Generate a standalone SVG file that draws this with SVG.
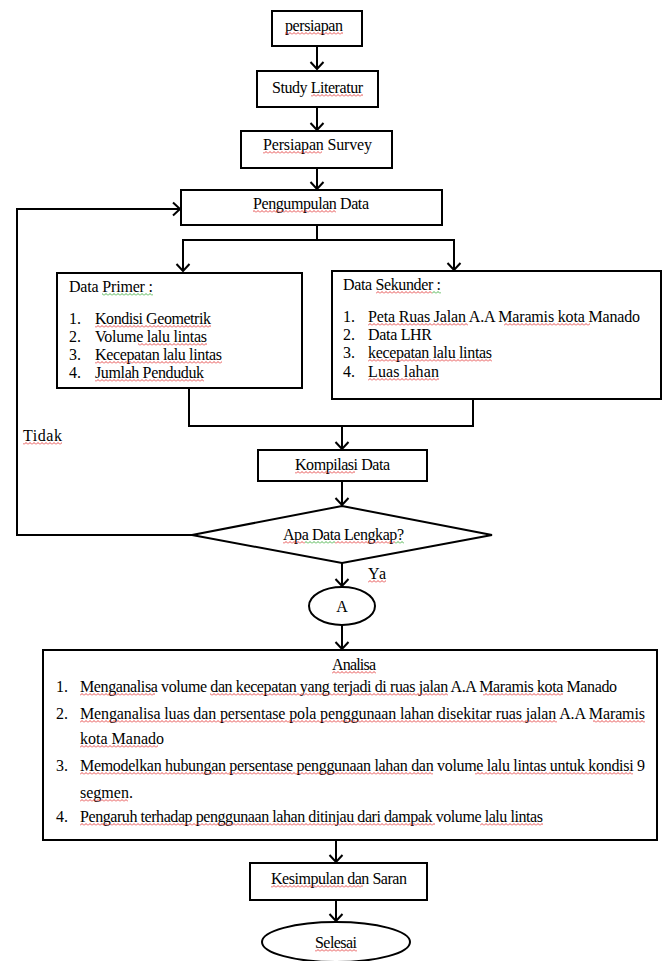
<svg xmlns="http://www.w3.org/2000/svg" width="666" height="961" viewBox="0 0 666 961">
<style>
.b{fill:#fff;stroke:#000;stroke-width:2}
.c{fill:none;stroke:#000;stroke-width:2}
.t{font-family:"Liberation Serif","Times New Roman",serif;font-size:16px;fill:#000}
.m{text-anchor:middle}
.r{fill:url(#sq)}
.g{fill:url(#sg)}
</style>
<defs>
<marker id="ah" markerUnits="userSpaceOnUse" markerWidth="16" markerHeight="16" refX="8" refY="8" orient="auto" overflow="visible">
<path d="M1,1.5 L8,8 L1,14.5" fill="none" stroke="#000" stroke-width="2"/>
</marker>
<pattern id="sq" patternUnits="userSpaceOnUse" width="4" height="3">
<path d="M0,2.5 L2,0.5 L4,2.5" fill="none" stroke="#e02020" stroke-width="0.8"/>
</pattern>
<pattern id="sg" patternUnits="userSpaceOnUse" width="4" height="3">
<path d="M0,2.5 L2,0.5 L4,2.5" fill="none" stroke="#20a020" stroke-width="0.8"/>
</pattern>
</defs>
<rect width="666" height="961" fill="#fff"/>

<g id="connectors" class="c">
<path d="M317,46 V69" marker-end="url(#ah)"/>
<path d="M317,107 V130" marker-end="url(#ah)"/>
<path d="M317,168 V189" marker-end="url(#ah)"/>
<path d="M317,225 V240"/>
<path d="M182,240 H455"/>
<path d="M183,240 V271" marker-end="url(#ah)"/>
<path d="M454,240 V270" marker-end="url(#ah)"/>
<path d="M189,388 V426 H473 V399"/>
<path d="M342,426 V449" marker-end="url(#ah)"/>
<path d="M342,481 V505" marker-end="url(#ah)"/>
<path d="M192,535 H17 V209 H180" marker-end="url(#ah)"/>
<path d="M342,563 V586" marker-end="url(#ah)"/>
<path d="M342,625 V649" marker-end="url(#ah)"/>
<path d="M336,840 V862" marker-end="url(#ah)"/>
<path d="M336,900 V921" marker-end="url(#ah)"/>
</g>

<g id="persiapan">
<rect class="b" x="272" y="11" width="90" height="35"/>
<text class="t" x="285" y="31" textLength="58">persiapan</text>
<g transform="translate(0,32)"><rect class="r" x="285" y="0" width="58" height="3"/></g>
</g>
<g id="study">
<rect class="b" x="257" y="71" width="121" height="36"/>
<text class="t" x="272" y="93" textLength="91">Study Literatur</text>
<g transform="translate(0,94)"><rect class="r" x="311" y="0" width="52" height="3"/></g>
</g>
<g id="survey">
<rect class="b" x="241" y="131" width="151" height="37"/>
<text class="t" x="263" y="150" textLength="109">Persiapan Survey</text>
<g transform="translate(0,151)"><rect class="r" x="263" y="0" width="59" height="3"/></g>
</g>
<g id="pengumpulan">
<rect class="b" x="181" y="190" width="261" height="35"/>
<text class="t" x="253" y="209" textLength="116">Pengumpulan Data</text>
<g transform="translate(0,210)"><rect class="r" x="253" y="0" width="83" height="3"/></g>
</g>
<g id="primer">
<rect class="b" x="57" y="273" width="245" height="115"/>
<text class="t" x="69" y="292" textLength="84">Data Primer :</text>
<text class="t" x="69" y="324">1.</text><text class="t" x="95" y="324" textLength="116">Kondisi Geometrik</text>
<text class="t" x="69" y="342">2.</text><text class="t" x="95" y="342" textLength="112">Volume lalu lintas</text>
<text class="t" x="69" y="360">3.</text><text class="t" x="95" y="360" textLength="127">Kecepatan  lalu lintas</text>
<text class="t" x="69" y="378">4.</text><text class="t" x="95" y="378" textLength="109">Jumlah Penduduk</text>
<g transform="translate(0,293)"><rect class="g" x="102" y="0" width="51" height="3"/></g>
<g transform="translate(0,325)"><rect class="r" x="95" y="0" width="116" height="3"/></g>
<g transform="translate(0,343)"><rect class="r" x="138" y="0" width="69" height="3"/></g>
<g transform="translate(0,361)"><rect class="r" x="95" y="0" width="127" height="3"/></g>
<g transform="translate(0,379)"><rect class="r" x="95" y="0" width="109" height="3"/></g>
</g>
<g id="sekunder">
<rect class="b" x="332" y="271" width="329" height="128"/>
<text class="t" x="343" y="290" textLength="98">Data Sekunder :</text>
<text class="t" x="343" y="322">1.</text><text class="t" x="368" y="322" textLength="272">Peta Ruas  Jalan A.A Maramis kota Manado</text>
<text class="t" x="343" y="340">2.</text><text class="t" x="368" y="340" textLength="64">Data LHR</text>
<text class="t" x="343" y="358">3.</text><text class="t" x="368" y="358" textLength="124">kecepatan  lalu lintas</text>
<text class="t" x="343" y="377">4.</text><text class="t" x="368" y="377" textLength="71">Luas  lahan</text>
<g transform="translate(0,291)"><rect class="r" x="376" y="0" width="56" height="3"/><rect class="g" x="432" y="0" width="9" height="3"/></g>
<g transform="translate(0,323)"><rect class="r" x="368" y="0" width="100" height="3"/><rect class="r" x="504" y="0" width="86" height="3"/></g>
<g transform="translate(0,359)"><rect class="r" x="368" y="0" width="124" height="3"/></g>
<g transform="translate(0,378)"><rect class="r" x="368" y="0" width="71" height="3"/></g>
</g>
<g id="tidak">
<text class="t" x="23" y="441" textLength="39">Tidak</text>
<g transform="translate(0,442)"><rect class="r" x="23" y="0" width="39" height="3"/></g>
</g>
<g id="kompilasi">
<rect class="b" x="258" y="450" width="169" height="31"/>
<text class="t" x="295" y="470" textLength="95">Kompilasi  Data</text>
<g transform="translate(0,471)"><rect class="r" x="295" y="0" width="60" height="3"/></g>
</g>
<g id="lengkap">
<polygon class="b" points="342,506 492,535 342,563 192,535"/>
<text class="t" x="283" y="540" textLength="121">Apa Data Lengkap?</text>
<g transform="translate(0,541)"><rect class="r" x="283" y="0" width="22" height="3"/><rect class="g" x="305" y="0" width="30" height="3"/><rect class="r" x="335" y="0" width="60" height="3"/><rect class="g" x="395" y="0" width="9" height="3"/></g>
</g>
<g id="ya">
<text class="t" x="368" y="579" textLength="18">Ya</text>
<g transform="translate(0,580)"><rect class="r" x="368" y="0" width="18" height="3"/></g>
</g>
<g id="a">
<ellipse class="b" cx="342" cy="606" rx="33" ry="19"/>
<text class="t m" x="342" y="612">A</text>
</g>
<g id="analisa">
<rect class="b" x="43" y="650" width="614" height="190"/>
<text class="t" x="332" y="670" textLength="44">Analisa</text>
<text class="t" x="56" y="692">1.</text>
<text class="t" x="80" y="692" textLength="537">Menganalisa volume dan kecepatan  yang terjadi  di ruas jalan A.A Maramis kota Manado</text>
<text class="t" x="56" y="719">2.</text>
<text class="t" x="80" y="719" textLength="565">Menganalisa luas dan persentase pola penggunaan lahan disekitar ruas jalan A.A Maramis</text>
<text class="t" x="80" y="744">kota Manado</text>
<text class="t" x="56" y="771">3.</text>
<text class="t" x="80" y="771" textLength="565">Memodelkan hubungan persentase penggunaan lahan dan volume lalu lintas untuk kondisi 9</text>
<text class="t" x="80" y="798">segmen.</text>
<text class="t" x="56" y="822">4.</text>
<text class="t" x="80" y="822" textLength="463">Pengaruh terhadap penggunaan lahan ditinjau dari dampak volume lalu lintas</text>
<g transform="translate(0,671)"><rect class="r" x="332" y="0" width="44" height="3"/></g>
<g transform="translate(0,693)"><rect class="r" x="80" y="0" width="75" height="3"/><rect class="r" x="210" y="0" width="238" height="3"/><rect class="r" x="483" y="0" width="80" height="3"/></g>
<g transform="translate(0,720)"><rect class="r" x="80" y="0" width="477" height="3"/><rect class="r" x="593" y="0" width="52" height="3"/></g>
<g transform="translate(0,745)"><rect class="r" x="80" y="0" width="78" height="3"/></g>
<g transform="translate(0,772)"><rect class="r" x="80" y="0" width="353" height="3"/><rect class="r" x="475" y="0" width="158" height="3"/></g>
<g transform="translate(0,799)"><rect class="r" x="80" y="0" width="48" height="3"/></g>
<g transform="translate(0,823)"><rect class="r" x="80" y="0" width="355" height="3"/><rect class="r" x="480" y="0" width="63" height="3"/></g>
</g>
<g id="kesimpulan">
<rect class="b" x="250" y="863" width="177" height="37"/>
<text class="t" x="271" y="884" textLength="136">Kesimpulan dan Saran</text>
<g transform="translate(0,885)"><rect class="r" x="271" y="0" width="92" height="3"/></g>
</g>
<g id="selesai">
<ellipse class="b" cx="336" cy="942" rx="74" ry="20"/>
<text class="t" x="315" y="948" textLength="42">Selesai</text>
<g transform="translate(0,949)"><rect class="r" x="315" y="0" width="42" height="3"/></g>
</g>
</svg>
